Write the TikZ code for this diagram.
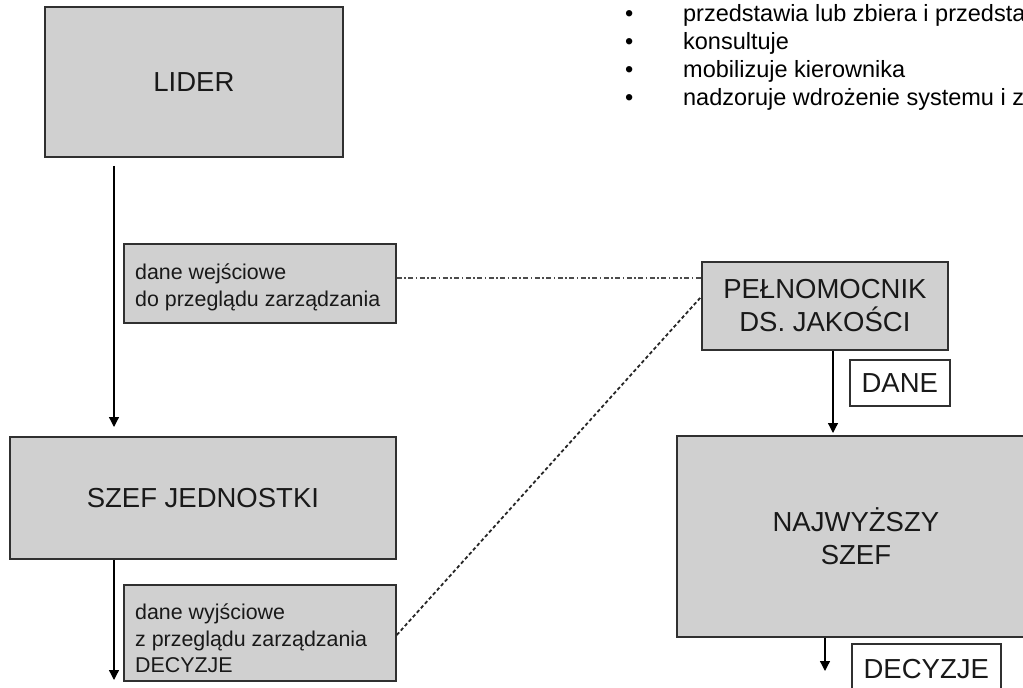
\documentclass[tikz,border=0pt]{standalone}
\usepackage{fontspec}
\setmainfont{Liberation Sans}
\usetikzlibrary{arrows.meta}
\definecolor{boxfill}{HTML}{D0D0D0}
\definecolor{boxline}{HTML}{303030}
\tikzset{
  graybox/.style={draw=boxline, line width=1.8pt, fill=boxfill, inner sep=0pt, anchor=north west},
  whitebox/.style={draw=boxline, line width=1.5pt, fill=white, inner sep=0pt, anchor=north west},
  bigfont/.style={font=\fontsize{27.5pt}{33pt}\selectfont, text=black!90},
  smallfont/.style={font=\fontsize{21.4pt}{26.5pt}\selectfont, text=black!90},
  listfont/.style={font=\fontsize{23.5pt}{28pt}\selectfont, text=black},
  arr/.style={draw=black, line width=1.3pt, -{Triangle[width=10pt,length=10pt]}},
  dashdot/.style={draw=black!70, line width=1.1pt, dash pattern=on 5pt off 2.5pt on 1.5pt off 2.5pt},
  dotline/.style={draw=black!85, line width=1.8pt, dash pattern=on 3.5pt off 2.5pt},
}
\begin{document}
\begin{tikzpicture}[x=1pt,y=-1pt]
\useasboundingbox (0,0) rectangle (1023,688);
% boxes
\node[graybox, bigfont, minimum width=298pt, minimum height=150pt] (lider) at (44,6) {LIDER};
\node[graybox, bigfont, minimum width=386pt, minimum height=122pt] (szef) at (9,436) {SZEF JEDNOSTKI};
\node[graybox, minimum width=272pt, minimum height=79pt] (wej) at (123,243) {};
\node[smallfont, align=left, anchor=north west, inner sep=0pt] (wejtxt) at (135,264) {dane wejściowe\\do przeglądu zarządzania};
\node[graybox, minimum width=272pt, minimum height=96pt] (wy) at (123,584) {};
\node[smallfont, align=left, anchor=north west, inner sep=0pt] (wytxt) at (135,604) {dane wyjściowe\\z przeglądu zarządzania\\DECYZJE};
\node[graybox, bigfont, align=center, minimum width=246pt, minimum height=88pt] (pel) at (701,261) {PEŁNOMOCNIK\\DS. JAKOŚCI};
\node[whitebox, bigfont, minimum width=100pt, minimum height=46pt] (dane) at (849,359) {DANE};
\node[graybox, bigfont, align=center, minimum width=358pt, minimum height=201pt] (naj) at (676,435) {NAJWYŻSZY\\SZEF};
\node[whitebox, bigfont, minimum width=149pt, minimum height=50pt] (dec) at (851,643) {DECYZJE};
% bullet list
\node[listfont, anchor=base west, inner sep=0pt] (l1) at (683,21) {\llap{\makebox[58pt][l]{•}}przedstawia lub zbiera i przedstawia};
\node[listfont, anchor=base west, inner sep=0pt] (l2) at (683,49) {\llap{\makebox[58pt][l]{•}}konsultuje};
\node[listfont, anchor=base west, inner sep=0pt] (l3) at (683,77) {\llap{\makebox[58pt][l]{•}}mobilizuje kierownika};
\node[listfont, anchor=base west, inner sep=0pt] (l4) at (683,105) {\llap{\makebox[58pt][l]{•}}nadzoruje wdrożenie systemu i zarządzania};
% helper coordinates
\coordinate (xl) at (114,0);
\coordinate (xr1) at (833,0);
\coordinate (xr2) at (825,0);
\coordinate (ydd) at (0,278);
\coordinate (ydot1) at (0,635);
\coordinate (ydot2) at (0,297);
\coordinate (endL) at (114,680);
\coordinate (endR) at (825,671);
% connectors
\draw[arr, shorten <=8pt, shorten >=9pt] (lider.south -| xl) -- (szef.north -| xl);
\draw[arr] (szef.south -| xl) -- (endL);
\draw[dashdot] (wej.east |- ydd) -- (pel.west |- ydd);
\draw[dotline] (wy.east |- ydot1) -- (pel.west |- ydot2);
\draw[arr, shorten >=2pt] (pel.south -| xr1) -- (naj.north -| xr1);
\draw[arr] (naj.south -| xr2) -- (endR);
\end{tikzpicture}
\end{document}
